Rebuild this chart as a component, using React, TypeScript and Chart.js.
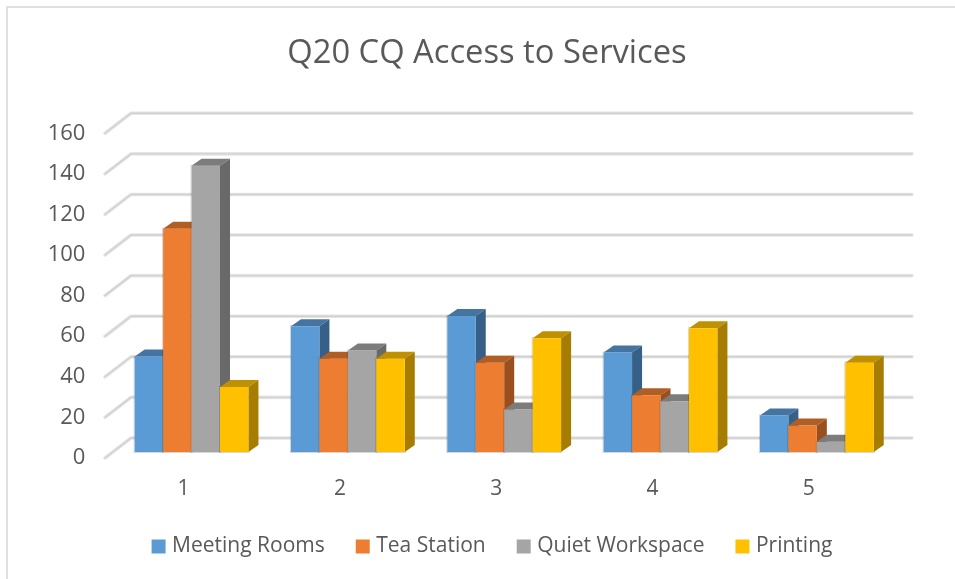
import React, { useEffect, useRef } from "react";
import { Chart, registerables } from "chart.js";

Chart.register(...registerables);

const categories = ["1", "2", "3", "4", "5"];
const meetingRooms = [47, 62, 67, 49, 18];
const teaStation = [110, 46, 44, 28, 13];
const quietWorkspace = [141, 50, 21, 25, 5];
const printing = [32, 46, 56, 61, 44];
const seriesNames = ["Meeting Rooms", "Tea Station", "Quiet Workspace", "Printing"];
const frontColors = ["#5B9BD5", "#ED7D31", "#A5A5A5", "#FFC000"];
const topColors = ["#44749F", "#B15E25", "#7C7C7C", "#BF9000"];
const sideColors = ["#376088", "#9A4F1E", "#696969", "#A67D00"];

const TEXT = "#595959";
const FONT = "'Open Sans', sans-serif";
const DEPTH_X = 10;
const DEPTH_Y = -7;

function drawExtrusion(chart: any, idx: number) {
  const { ctx } = chart;
  ctx.save();
  for (const el of chart.getDatasetMeta(idx).data) {
    const l = el.x - el.width / 2;
    const r = el.x + el.width / 2;
    const t = el.y;
    const b = el.base;
    ctx.strokeStyle = "rgba(0,0,0,0.16)";
    ctx.lineWidth = 1;
    ctx.strokeRect(l - 0.5, t - 0.5, r - l + 1, b - t + 1);
    ctx.fillStyle = topColors[idx];
    ctx.beginPath();
    ctx.moveTo(l, t);
    ctx.lineTo(l + DEPTH_X, t + DEPTH_Y);
    ctx.lineTo(r + DEPTH_X, t + DEPTH_Y);
    ctx.lineTo(r, t);
    ctx.closePath();
    ctx.fill();
    ctx.fillStyle = sideColors[idx];
    ctx.beginPath();
    ctx.moveTo(r, t);
    ctx.lineTo(r + DEPTH_X, t + DEPTH_Y);
    ctx.lineTo(r + DEPTH_X, b + DEPTH_Y);
    ctx.lineTo(r, b);
    ctx.closePath();
    ctx.fill();
  }
  ctx.restore();
}

const threeD = {
  id: "threeD",
  afterLayout(chart: any) {
    // let the y tick labels use the room to the left of the axis box
    chart.scales.y.left = 0;
    chart.legend.left += 7;
    chart.legend.right += 7;
  },
  beforeDatasetsDraw(chart: any) {
    const { ctx, chartArea: a, scales } = chart;
    const y = scales.y;
    ctx.save();
    ctx.lineCap = "round";
    ctx.lineJoin = "round";
    for (const v of y.ticks.map((t: any) => t.value)) {
      const py = y.getPixelForValue(v);
      const path = () => {
        ctx.beginPath();
        ctx.moveTo(a.left - 8.4, py + 6);
        ctx.lineTo(a.left + 17.6, py - 14);
        ctx.lineTo(a.right + 17, py - 14);
      };
      path();
      ctx.strokeStyle = "#E6E6E6";
      ctx.lineWidth = 3.6;
      ctx.stroke();
      path();
      ctx.strokeStyle = "#D0D0D0";
      ctx.lineWidth = 1.4;
      ctx.stroke();
    }
    ctx.restore();
    // left-most series first, so each bar's front covers its neighbour's side face
    chart.data.datasets.forEach((_: any, i: number) => {
      drawExtrusion(chart, i);
      chart.getDatasetMeta(i).controller.draw();
    });
    return false;
  },
};

export default function App() {
  const ref = useRef<HTMLCanvasElement>(null);
  useEffect(() => {
    const seriesValues = [meetingRooms, teaStation, quietWorkspace, printing];
    const chart = new Chart(ref.current!, {
      type: "bar",
      data: {
        labels: categories,
        datasets: seriesNames.map((name, i) => ({
          label: name,
          data: seriesValues[i],
          backgroundColor: frontColors[i],
          categoryPercentage: 0.728,
          barPercentage: 1,
        })),
      },
      options: {
        animation: false,
        responsive: false,
        layout: { padding: { left: 79, right: 60, top: 0, bottom: 12 } },
        plugins: {
          tooltip: { enabled: false },
          title: {
            display: true,
            text: "Q20 CQ Access to Services",
            color: TEXT,
            font: { family: FONT, size: 32.7, weight: "normal" },
            padding: { top: 34, bottom: 54 },
          },
          legend: {
            position: "bottom",
            labels: {
              color: TEXT,
              font: { family: FONT, size: 21 },
              boxWidth: 6,
              boxHeight: 6,
              padding: 35,
              generateLabels: () =>
                seriesNames.map((name, i) => ({
                  text: name,
                  fillStyle: frontColors[i],
                  strokeStyle: frontColors[i],
                  lineWidth: 8,
                  datasetIndex: i,
                  fontColor: TEXT,
                })),
            },
          },
        },
        scales: {
          x: {
            grid: { display: false, drawTicks: false },
            border: { display: false },
            ticks: { color: TEXT, font: { family: FONT, size: 21 }, labelOffset: -8, padding: 24 },
            afterFit: (s: any) => { s.height = 49; },
          },
          y: {
            min: 0,
            max: 160,
            grid: { display: false, drawTicks: false },
            border: { display: false },
            ticks: { stepSize: 20, color: TEXT, font: { family: FONT, size: 22 }, labelOffset: 6, padding: 28 },
            afterFit: (s: any) => { s.width = 34.4; },
          },
        },
      },
      plugins: [threeD],
    } as any);
    return () => chart.destroy();
  }, []);
  return (
    <div style={{ position: "absolute", left: 0, top: 0, width: 955, height: 579, background: "#fff", overflow: "hidden" }}>
      <div style={{ position: "absolute", left: 6, top: 6, width: 960, height: 600, borderLeft: "2px solid #E0E0E0", borderTop: "2px solid #E0E0E0" }} />
      <canvas ref={ref} width={955} height={579} style={{ position: "absolute", left: 0, top: 0, display: "block" }} />
    </div>
  );
}
